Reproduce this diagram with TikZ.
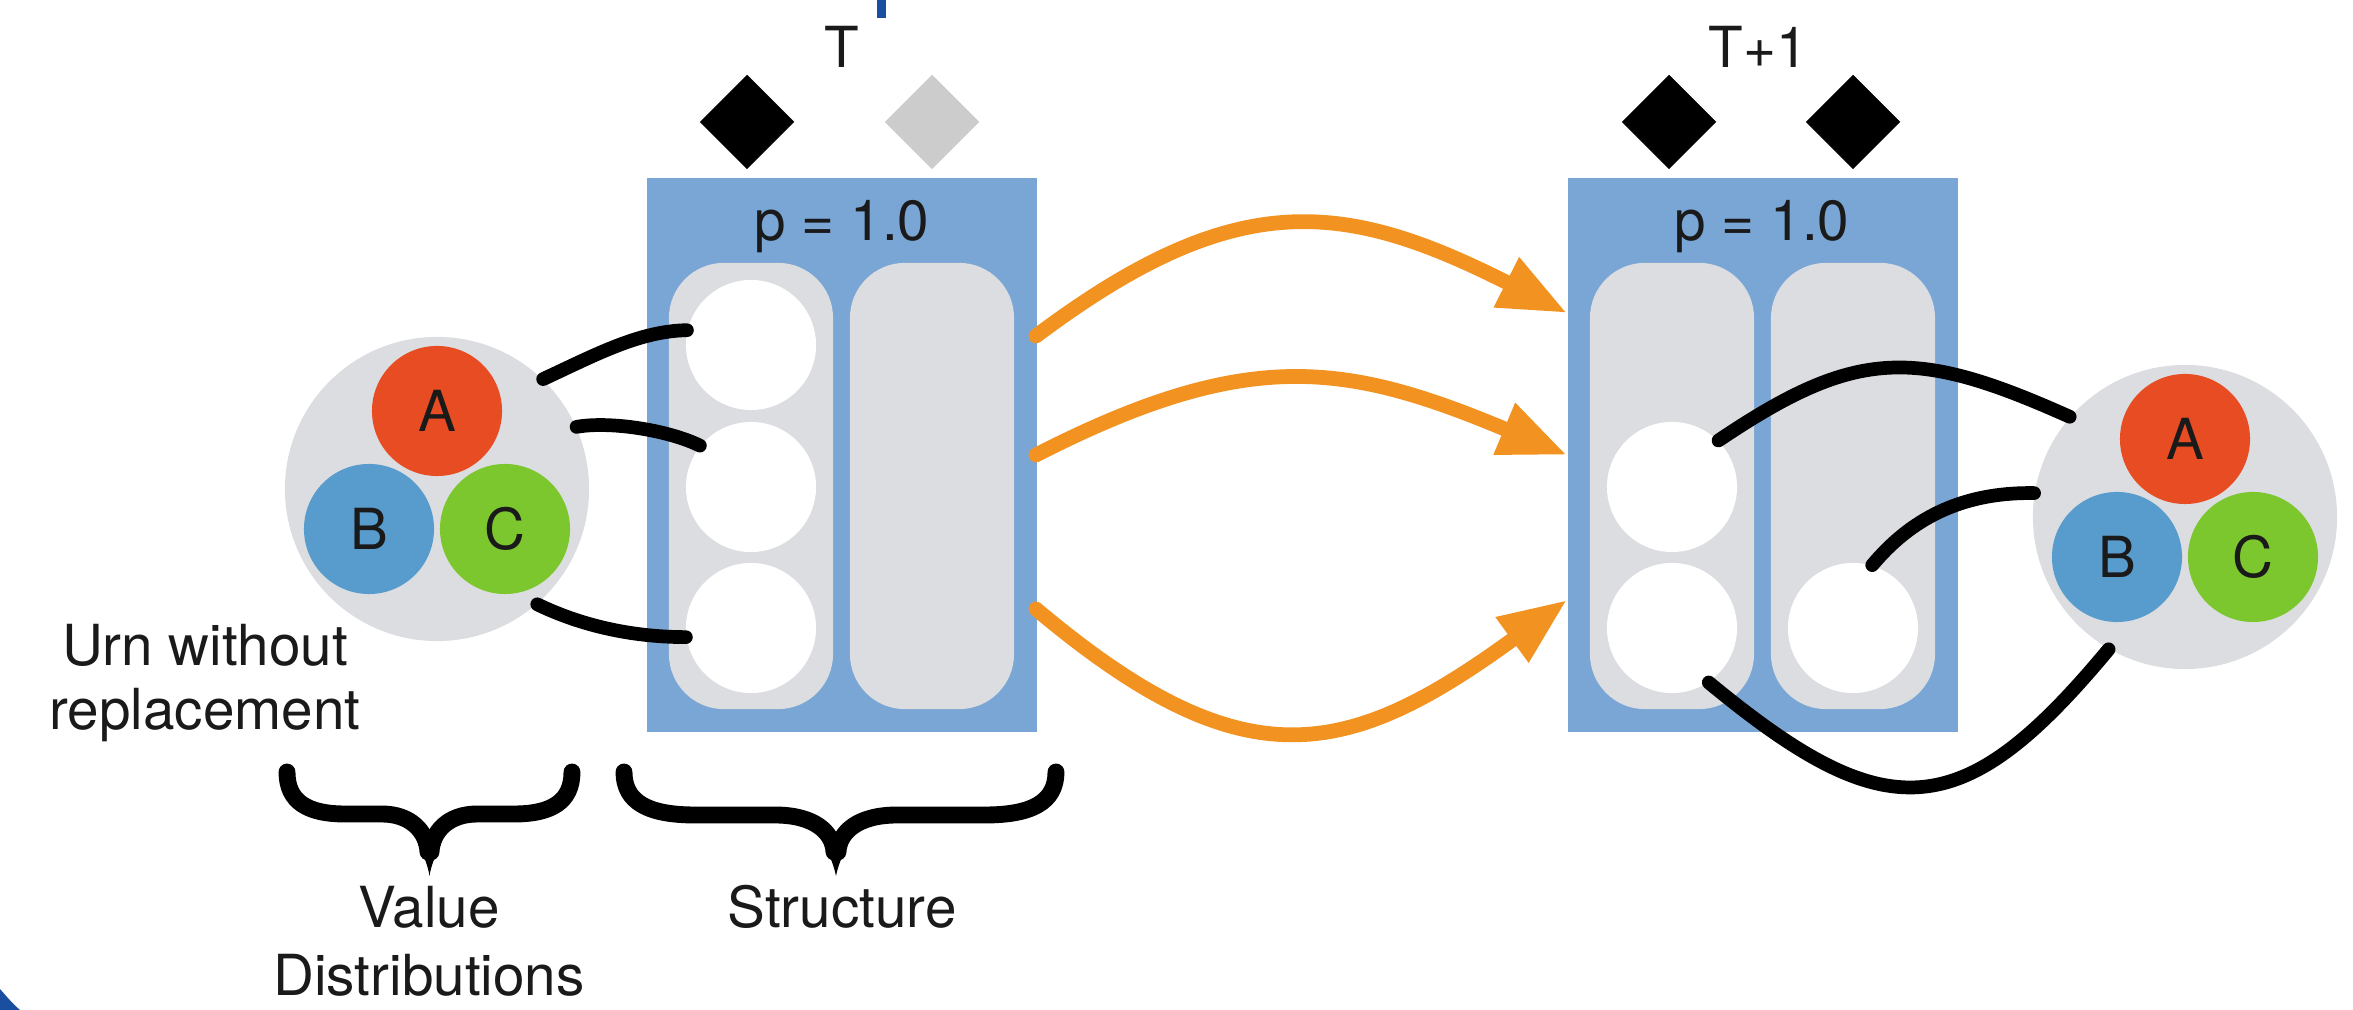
\documentclass[tikz,border=0pt]{standalone}
\usepackage{fontspec}
\setmainfont{TeX Gyre Heros}
\usetikzlibrary{shapes.geometric,arrows.meta}

\definecolor{boxblue}{HTML}{7AA6D5}
\definecolor{slotgray}{HTML}{DCDDE0}
\definecolor{tokgray}{HTML}{CCCCCC}
\definecolor{ballred}{HTML}{E84C22}
\definecolor{ballblue}{HTML}{579CCD}
\definecolor{ballgreen}{HTML}{7DC72E}
\definecolor{floworange}{HTML}{F29220}
\definecolor{edgeblue}{HTML}{1A4FA0}
\definecolor{ink}{HTML}{1A1A1A}

\newcommand{\lblfont}{\fontsize{16.1}{18}\selectfont}

\tikzset{
	box/.style={fill=boxblue, inner sep=0pt, minimum width=3.9cm, minimum height=5.54cm},
	column/.style={fill=slotgray, rounded corners=0.55cm, inner sep=0pt, minimum width=1.64cm, minimum height=4.46cm},
	slot/.style={circle, fill=white, inner sep=0pt, minimum size=1.3cm},
	urn/.style={circle, fill=slotgray, inner sep=0pt, minimum size=3.04cm},
	ball/.style={circle, inner sep=0pt, minimum size=1.3cm, text=ink, font=\lblfont},
	tok/.style={diamond, fill=black, inner sep=0pt, minimum width=0.95cm, minimum height=0.95cm},
	lbl/.style={text=ink, font=\lblfont, inner sep=0pt},
	wire/.style={line width=3.9pt, line cap=round},
	flow/.style={draw=floworange, line width=4.2pt, line cap=round, -{Triangle[length=0.68cm,width=0.52cm]}},
	curl/.style={line width=4.8pt, line cap=round, line join=round},
}

\begin{document}
\begin{tikzpicture}[x=0.01cm, y=-0.01cm]
	\useasboundingbox (0,0) rectangle (2353,1010);

	% bits of the surrounding figure
	\fill[edgeblue] (877,0) rectangle (886,18);
	\fill[edgeblue] (0,989) .. controls (7,997) and (13,1004) .. (20,1010) -- (0,1010) -- cycle;

	% step T
	\node[box] (boxL) at (842,455) {};
	\node[column] (colL1) at (751,486) {};
	\node[column] (colL2) at (932,486) {};
	\node[slot] (s11) at (751,345) {};
	\node[slot] (s12) at (751,487) {};
	\node[slot] (s13) at (751,628) {};
	\node[lbl, anchor=base] (pL) at (842,241) {p = 1.0};
	\node[tok] (tokL1) at (747,122) {};
	\node[tok, fill=tokgray] (tokL2) at (932,122) {};
	\node[lbl, anchor=base] (stepT) at (842,68) {T};

	% step T+1
	\node[box] (boxR) at (1763,455) {};
	\node[column] (colR1) at (1672,486) {};
	\node[column] (colR2) at (1853,486) {};
	\node[slot] (s21) at (1672,487) {};
	\node[slot] (s22) at (1672,628) {};
	\node[slot] (s23) at (1853,628) {};
	\node[lbl, anchor=base] (pR) at (1762,241) {p = 1.0};
	\node[tok] (tokR1) at (1669,122) {};
	\node[tok] (tokR2) at (1853,122) {};
	\node[lbl, anchor=base] (stepT1) at (1758,68) {T+1};

	% urns
	\node[urn] (urnL) at (437,489) {};
	\node[ball, fill=ballred] (aL) at (437,411) {A};
	\node[ball, fill=ballblue] (bL) at (369,529) {B};
	\node[ball, fill=ballgreen] (cL) at (505,529) {C};

	\node[urn] (urnR) at (2185,517) {};
	\node[ball, fill=ballred] (aR) at (2185,439) {A};
	\node[ball, fill=ballblue] (bR) at (2117,557) {B};
	\node[ball, fill=ballgreen] (cR) at (2253,557) {C};

	% labels (base = last line)
	\node[lbl, anchor=base, align=center] (urntext) at (205,730) {Urn without\\[0.2pt]replacement};
	\node[lbl, anchor=base, align=center] (valtext) at (429,996) {Value\\[1.4pt]Distributions};
	\node[lbl, anchor=base] (structtext) at (842,928) {Structure};

	% braces
	\draw[curl] (287,772) .. controls (287,802) and (308,814) .. (345,814) -- (382,814)
		.. controls (411,814) and (427,832) .. (428,852);
	\draw[curl] (572,772) .. controls (572,802) and (551,814) .. (514,814) -- (477,814)
		.. controls (448,814) and (432,832) .. (431,852);
	\fill (418,844) .. controls (424,856) and (428,866) .. (429.5,876)
		.. controls (431,866) and (435,856) .. (441,844) -- cycle;

	\draw[curl] (624,772) .. controls (624,802) and (648,815) .. (695,815) -- (775,815)
		.. controls (814,815) and (833,832) .. (834,852);
	\draw[curl] (1056,772) .. controls (1056,802) and (1032,815) .. (985,815) -- (897,815)
		.. controls (858,815) and (839,832) .. (838,852);
	\fill (824,844) .. controls (830,856) and (834,866) .. (836,876)
		.. controls (838,866) and (842,856) .. (848,844) -- cycle;

	% transitions
	\coordinate (f1) at (1036,336);
	\coordinate (f2) at (1036,455);
	\coordinate (f3) at (1036,609);
	\coordinate (g1) at (1567,313);
	\coordinate (g2) at (1567,455);
	\coordinate (g3) at (1567,600);
	\draw[flow] (f1) .. controls (1236,186) and (1344,200) .. (g1);
	\draw[flow] (f2) .. controls (1249,346) and (1347,363) .. (g2);
	\draw[flow] (f3) .. controls (1244,784) and (1347,760) .. (g3);

	% draws from the urns
	\draw[wire] (urnL.46) .. controls (597,354) and (640,331) .. (s11.167);
	\draw[wire] (urnL.24) .. controls (610,421) and (668,430) .. (s12.141);
	\draw[wire] (urnL.-49) .. controls (580,625) and (630,637) .. (s13.188);

	\draw[wire] (s21.45) .. controls (1857,347) and (1916,348) .. (urnR.139);
	\draw[wire] (s23.73) .. controls (1910,520) and (1960,492) .. (urnR.171);
	\draw[wire] (s22.-56) .. controls (1886,829) and (1962,826) .. (urnR.240);
\end{tikzpicture}
\end{document}
